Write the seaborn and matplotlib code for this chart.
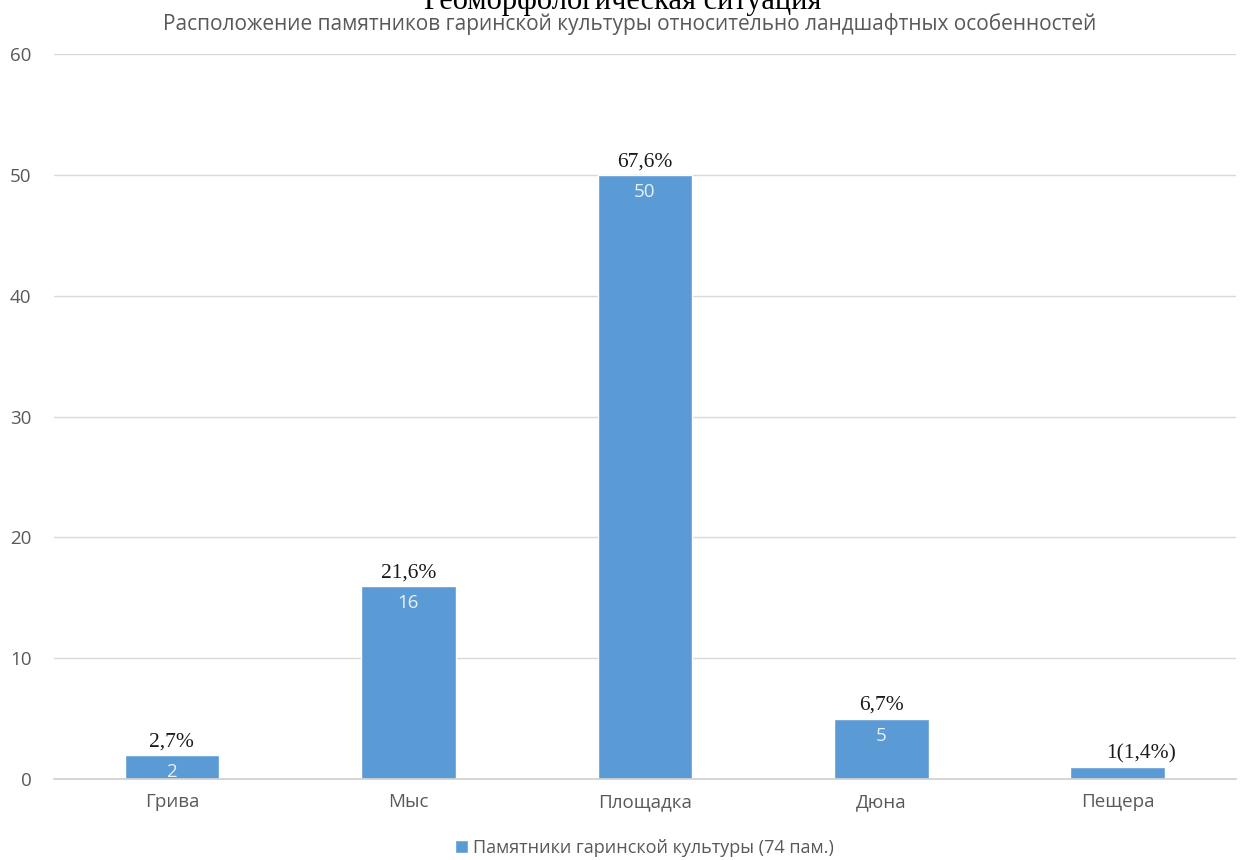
import matplotlib
matplotlib.use('Agg')
import matplotlib.pyplot as plt
import seaborn as sns
import pandas as pd

# Данные
categorias = ['Грива', 'Мыс', 'Площадка', 'Дюна', 'Пещера']
valores = [2, 16, 50, 5, 1]
porcentajes = ['2,7%', '21,6%', '67,6%', '6,7%', '1(1,4%)']
etiquetas_dentro = ['2', '16', '50', '5', '']
y_ticks = [0, 10, 20, 30, 40, 50, 60]

titulo_cortado = 'Геоморфологическая ситуация'
subtitulo = 'Расположение памятников гаринской культуры относительно ландшафтных особенностей'
leyenda = 'Памятники гаринской культуры (74 пам.)'

color_barra = '#5B9BD5'
gris = '#595959'

sns.set_theme(style='white')
plt.rcParams['font.family'] = ['Open Sans', 'DejaVu Sans']

df = pd.DataFrame({'categoria': categorias, 'valor': valores})

fig = plt.figure(figsize=(12.46, 8.6), dpi=100)
ax = fig.add_axes([0.043, 0.0942, 0.949, 0.8428])

sns.barplot(data=df, x='categoria', y='valor', color=color_barra,
            saturation=1, width=0.4, ax=ax, label=leyenda)

ax.set_ylim(0, 60)
ax.set_yticks(y_ticks)
ax.set_xlim(-0.5, len(categorias) - 0.5)
ax.grid(axis='y', color='#d9d9d9', linewidth=1)
ax.set_axisbelow(True)
for s in ['top', 'right', 'left']:
    ax.spines[s].set_visible(False)
ax.spines['bottom'].set_color('#d0d0d0')
ax.tick_params(axis='both', length=0, colors=gris, labelsize=13.5)
ax.tick_params(axis='x', pad=10)
ax.tick_params(axis='y', pad=16)
ax.set_xlabel('')
ax.set_ylabel('')

# Etiquetas sobre y dentro de las barras
for i, (v, p, d) in enumerate(zip(valores, porcentajes, etiquetas_dentro)):
    dx = 0.1 if i == len(valores) - 1 else 0
    ax.text(i + dx, v + 0.3, p, ha='center', va='bottom',
            family=['Liberation Serif'], fontsize=15.5, color='#1a1a1a')
    if d:
        ax.text(i, v - 0.7, d, ha='center', va='top',
                fontsize=13.5, color='#e8f0f8')

# Títulos
fig.text(0.5, 0.9895, titulo_cortado, ha='center', va='baseline',
         family=['Liberation Serif'], fontsize=22, color='black')
fig.text(0.505, 0.972, subtitulo, ha='center', va='center',
         fontsize=15, color=gris)

# Leyenda
ax.legend(loc='upper center', bbox_to_anchor=(0.5, -0.06), frameon=False,
          fontsize=13, handlelength=0.7, handleheight=0.7, handletextpad=0.3,
          labelcolor=gris)

fig.savefig('out.png', dpi=100)
